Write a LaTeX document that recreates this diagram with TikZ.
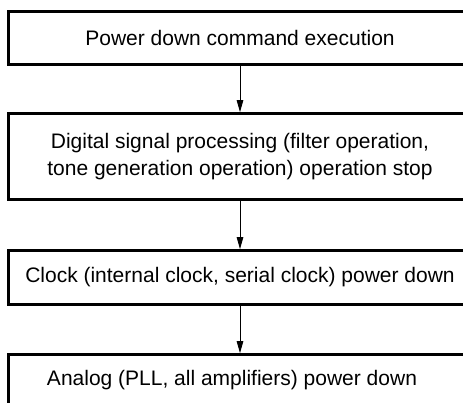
\documentclass[tikz,border=0pt]{standalone}
\usepackage{fontspec}
\setmainfont{Liberation Sans}
\usetikzlibrary{arrows.meta}
\begin{document}
\begin{tikzpicture}[x=1pt,y=-1pt,
  flowbox/.style={draw=black,line width=2.6pt,minimum width=463pt,inner sep=0pt,anchor=center,align=center,
    font=\fontsize{21}{26.5}\selectfont},
  flowtext/.style={inner sep=0pt,align=center,font=\fontsize{21}{26.5}\selectfont},
  flowarrow/.style={line width=0.9pt,-{Triangle[length=12pt,width=6.5pt]}}]
\useasboundingbox (0,0) rectangle (463,402);
\clip (0,0) rectangle (463,402);
\node[flowbox,minimum height=53pt] (b1) at (240,38) {Power down command execution};
\node[flowbox,minimum height=86pt] (b2) at (240,156.5) {Digital signal processing (filter operation,\\tone generation operation) operation stop};
\node[flowbox,minimum height=54pt] (b3) at (240,277.5) {Clock (internal clock, serial clock) power down};
\node[flowbox,minimum height=54pt] (b4) at (240,381.5) {};
\node[flowtext] (t4) at (232,380) {Analog (PLL, all amplifiers) power down};
\draw[flowarrow] (b1.south) -- (b2.north);
\draw[flowarrow] (b2.south) -- (b3.north);
\draw[flowarrow] (b3.south) -- (b4.north);
\end{tikzpicture}
\end{document}
